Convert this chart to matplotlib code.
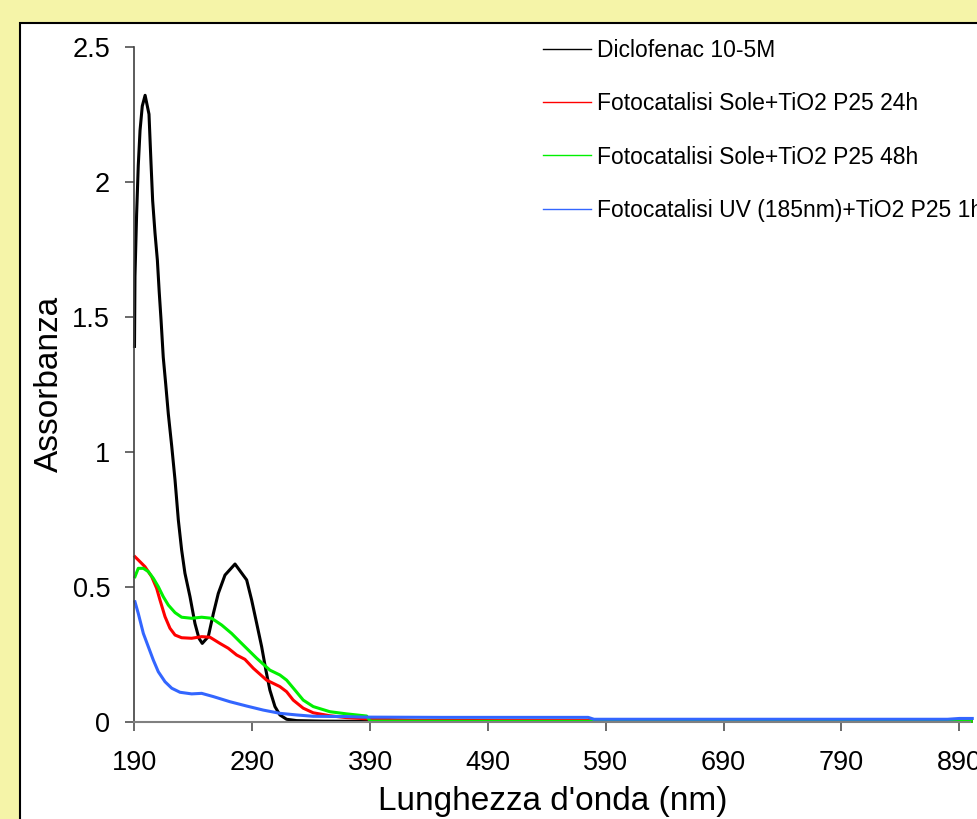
"""
Spettri UV-Vis del diclofenac prima e dopo i trattamenti di fotocatalisi.
"""

import matplotlib
matplotlib.use("Agg")
import matplotlib.pyplot as plt
from matplotlib.patches import Rectangle

plt.rcParams['font.family'] = ['Liberation Sans', 'DejaVu Sans']

# Diclofenac 10-5M
wl_dcf = [190, 190.4, 191.8, 193.2, 194.7, 196.6, 199, 202.3, 204, 205.4, 207.4, 209.4,
          211, 212.5, 214.4, 216.5, 218.7, 221.6, 224.4, 227.2, 230, 232.8, 237.1,
          241.3, 244.7, 247.5, 252.6, 256.9, 261.1, 266.8, 275.3, 285.2, 289.4, 293.7,
          297.9, 301.5, 304.9, 309.2, 313.4, 319.1, 327.6, 350, 400, 500, 600, 700, 800, 900]
abs_dcf = [1.39, 1.65, 1.88, 2.06, 2.19, 2.28, 2.32, 2.25, 2.07, 1.93, 1.81, 1.71,
           1.59, 1.49, 1.35, 1.25, 1.14, 1.02, 0.895, 0.747, 0.636, 0.55, 0.463,
           0.364, 0.309, 0.29, 0.315, 0.40, 0.475, 0.543, 0.584, 0.525, 0.451, 0.364,
           0.278, 0.191, 0.117, 0.056, 0.025, 0.009, 0.004, 0.002, 0.001, 0.001, 0.001,
           0.001, 0.001, 0.001]

# Fotocatalisi Sole+TiO2 P25 24h
wl_24h = [190.4, 193.2, 198.9, 204.6, 208.8, 211.6, 215.9, 220.1, 224.4, 230, 238.5,
          247, 254, 262.5, 269.6, 276.7, 283.7, 290.8, 302.1, 313.4, 319.1, 324.7,
          333.2, 341.7, 355.8, 370, 390, 430, 500, 576, 700, 800, 900]
abs_24h = [0.611, 0.599, 0.574, 0.537, 0.494, 0.451, 0.389, 0.346, 0.321, 0.311, 0.309,
           0.315, 0.313, 0.29, 0.272, 0.247, 0.231, 0.198, 0.154, 0.13, 0.111, 0.08,
           0.05, 0.033, 0.022, 0.015, 0.01, 0.005, 0.004, 0.004, 0.002, 0.002, 0.002]

# Fotocatalisi Sole+TiO2 P25 48h
wl_48h = [190.4, 193.2, 197.5, 201.7, 206, 210.2, 214.4, 218.7, 224.4, 230, 238.5,
          247, 255.5, 264, 272.4, 279.5, 293.7, 304.9, 313.4, 319.1, 326.2, 333.2,
          341.7, 355.8, 370, 387, 390, 500, 600, 700, 800, 900]
abs_48h = [0.537, 0.568, 0.568, 0.556, 0.531, 0.5, 0.463, 0.432, 0.404, 0.387, 0.383,
           0.387, 0.383, 0.358, 0.327, 0.296, 0.235, 0.191, 0.173, 0.154, 0.117, 0.08,
           0.056, 0.037, 0.029, 0.021, 0.002, 0.001, 0.001, 0.001, 0.001, 0.001]

# Fotocatalisi UV (185nm)+TiO2 P25 1h
wl_uv = [190.4, 193.2, 197.5, 201.7, 206, 210.2, 215.9, 221.6, 228.6, 238.5, 247,
         256.9, 271, 285.2, 299.3, 313.4, 327.6, 341.7, 370, 384, 450, 575, 580, 700,
         800, 880, 890, 901]
abs_uv = [0.444, 0.401, 0.327, 0.278, 0.228, 0.185, 0.148, 0.124, 0.109, 0.103, 0.105,
          0.093, 0.074, 0.058, 0.043, 0.031, 0.025, 0.02, 0.019, 0.017, 0.016, 0.016,
          0.009, 0.009, 0.009, 0.009, 0.012, 0.012]

labels = ['Diclofenac 10-5M', 'Fotocatalisi Sole+TiO2 P25 24h',
          'Fotocatalisi Sole+TiO2 P25 48h', 'Fotocatalisi UV (185nm)+TiO2 P25 1h']
colors = ['#000000', '#ff0000', '#00f000', '#3366ff']
xticks = [190, 290, 390, 490, 590, 690, 790, 890]
yticks = [0, 0.5, 1, 1.5, 2, 2.5]
yticklabels = ['0', '0.5', '1', '1.5', '2', '2.5']

W, H = 978, 819
fig = plt.figure(figsize=(W / 100, H / 100), dpi=100, facecolor='#f5f4a8')

# pannello bianco con bordo nero (sotto gli assi)
bg = fig.add_axes([0, 0, 1, 1], zorder=-5)
bg.set_axis_off()
bg.set_xlim(0, W)
bg.set_ylim(H, 0)
bg.add_patch(Rectangle((19.5, 22.5), W + 50, H + 50, facecolor='white',
                       edgecolor='black', lw=1.5))

ax = fig.add_axes([134.5 / W, (H - 721.7) / H, (970.5 - 134.5) / W, 675 / H])
ax.set_facecolor('none')

series = [(wl_dcf, abs_dcf), (wl_24h, abs_24h), (wl_48h, abs_48h), (wl_uv, abs_uv)]
for (x, y), c, lab in zip(series, colors, labels):
    ax.plot(x, y, color=c, lw=2.2, label=lab, clip_on=False)

ax.set_xlim(190, 899.5)
ax.set_ylim(0, 2.5)
ax.set_xticks(xticks)
ax.set_yticks(yticks)
ax.set_yticklabels(yticklabels)

for s in ['top', 'right']:
    ax.spines[s].set_visible(False)
ax.spines['left'].set_color('#404040')
ax.spines['bottom'].set_color('#808080')
ax.spines['left'].set_linewidth(1.2)
ax.spines['bottom'].set_linewidth(1.5)
ax.tick_params(direction='out', length=6.5, width=1.2, color='#505050',
               labelsize=19.5, pad=11)
ax.tick_params(axis='x', pad=14)

ax.set_xlabel("Lunghezza d'onda (nm)", fontsize=24, labelpad=7)
ax.set_ylabel('Assorbanza', fontsize=24, labelpad=5)

leg = ax.legend(loc='upper left', bbox_to_anchor=(543 / W, 1 - 39 / H),
                bbox_transform=fig.transFigure, frameon=False, fontsize=16.5,
                handlelength=2.1, handletextpad=0.26, labelspacing=1.32,
                borderpad=0, borderaxespad=0)
for h in leg.get_lines():
    h.set_linewidth(1.0)

fig.savefig('out.png', dpi=100, facecolor=fig.get_facecolor())
